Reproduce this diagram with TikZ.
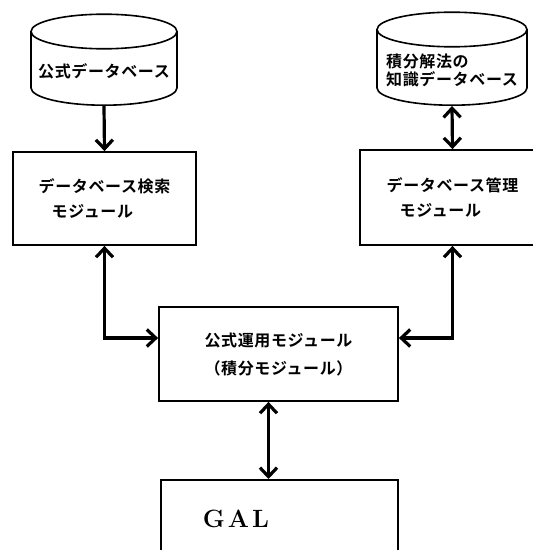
\documentclass[tikz,border=0pt]{standalone}
\usepackage{fontspec}
\newfontfamily\jpfont{Noto Sans CJK JP}[BoldFont={Noto Sans CJK JP Bold}, LetterSpace=4]
\usetikzlibrary{arrows.meta,shapes.geometric}

\begin{document}
\begin{tikzpicture}[x=1pt, y=-1pt,
    box/.style={draw, line width=1.8pt, rectangle, align=left,
      font=\jpfont\bfseries\fontsize{16}{25}\selectfont},
    db/.style={draw, line width=1.6pt, cylinder, shape border rotate=90,
      aspect=0.25, align=left, font=\jpfont\bfseries\fontsize{16}{18}\selectfont},
    link/.style={line width=3.2pt},
    tip/.tip={Straight Barb[length=9pt, width=17pt]},
  ]
  \useasboundingbox (0,0) rectangle (533,550);
  % data bases
  \node (dbF) [db, minimum width=146pt, minimum height=91pt, anchor=south] at (104,106)
    {公式データベース};
  \node (dbK) [db, minimum width=150pt, minimum height=93pt, anchor=south] at (452,106)
    {積分解法の\\知識データベース};
  % modules
  \node (search) [box, minimum width=183pt, minimum height=93pt] at (104.5,198.5)
    {データベース検索\\\hspace{13pt}モジュール};
  \node (manage) [box, minimum width=185pt, minimum height=95pt] at (452.5,197.5)
    {データベース管理\\\hspace{13pt}モジュール};
  \node (core) [box, minimum width=239pt, minimum height=94pt] at (278.5,354)
    {公式運用モジュール\\[3pt]（積分モジュール）};
  \node (gal) [box, minimum width=237pt, minimum height=100pt, anchor=north] at (279.5,479) {};
  \node (galtxt) [font=\bfseries\fontsize{25}{25}\selectfont] at (236,518.5)
    {G\hspace{3pt}A\hspace{3pt}L};
  % connectors
  \draw [link, -tip] (dbF.south) -- (search.north);
  \draw [link, tip-tip] (dbK.south) -- (manage.north);
  \draw [link, tip-tip] (search.south) |- ([yshift=16pt]core.west);
  \draw [link, tip-tip] (manage.south) |- ([yshift=16pt]core.east);
  \draw [link, tip-tip] ([xshift=-10pt]core.south) -- ([xshift=-10pt]core.south |- gal.north);
\end{tikzpicture}
\end{document}
